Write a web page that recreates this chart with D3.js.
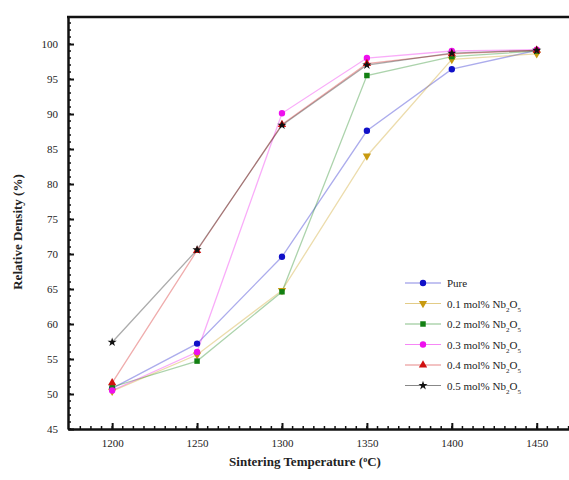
<!DOCTYPE html>
<html>
<head>
<meta charset="utf-8">
<script src="https://cdn.jsdelivr.net/npm/d3@7"></script>
<style>
	body { margin: 0; background: #fff; }
	svg text { font-family: "Liberation Serif", "Times New Roman", serif; fill: #222; }
</style>
</head>
<body>
<div id="chart"></div>
<script>
'use strict';

// Data
var temps = [1200, 1250, 1300, 1350, 1400, 1450];
var seriesNames = ['Pure', '0.1 mol% Nb2O5', '0.2 mol% Nb2O5', '0.3 mol% Nb2O5', '0.4 mol% Nb2O5', '0.5 mol% Nb2O5'];
var pure = [50.8, 57.2, 69.6, 87.6, 96.4, 99.1];
var nb01 = [50.4, 55.6, 64.8, 84.0, 97.8, 98.6];
var nb02 = [51.0, 54.7, 64.6, 95.5, 98.2, 99.0];
var nb03 = [50.5, 56.0, 90.1, 98.0, 99.0, 99.2];
var nb04 = [51.6, 70.5, 88.5, 97.2, 98.6, 99.1];
var nb05 = [57.4, 70.6, 88.4, 97.0, 98.7, 99.1];
var xTicks = [1200, 1250, 1300, 1350, 1400, 1450];
var yTicks = [45, 50, 55, 60, 65, 70, 75, 80, 85, 90, 95, 100];

var colors = ['#1010c8', '#c89a10', '#128012', '#ee10ee', '#d01010', '#111111'];
var shapes = ['circle', 'down', 'square', 'circle', 'up', 'star'];
var values = [pure, nb01, nb02, nb03, nb04, nb05];

var width = 569, height = 480;
var svg = d3.select('#chart')
	.append('svg')
	.attr('width', width)
	.attr('height', height);

// Scales
var x = d3.scaleLinear().domain([1174, 1469]).range([68, 569]);
var y = d3.scaleLinear().domain([45, 103.86]).range([429, 17]);

// Minor ticks
var xMinor = d3.range(1181.25, 1469, 6.25);
var yMinor = d3.range(45, 104, 1);

svg.selectAll('.xminor')
	.data(xMinor)
	.enter()
	.append('line')
	.attr('x1', function(d) { return x(d); })
	.attr('x2', function(d) { return x(d); })
	.attr('y1', y(45))
	.attr('y2', y(45) - 3)
	.attr('stroke', '#111')
	.attr('stroke-width', 1.5);

svg.selectAll('.yminor')
	.data(yMinor)
	.enter()
	.append('line')
	.attr('x1', x(1174))
	.attr('x2', x(1174) + 3)
	.attr('y1', function(d) { return y(d); })
	.attr('y2', function(d) { return y(d); })
	.attr('stroke', '#111')
	.attr('stroke-width', 1.5);

// Axes
var xAxis = svg.append('g')
	.attr('transform', 'translate(0,' + y(45) + ')')
	.call(d3.axisBottom(x).tickValues(xTicks).tickFormat(d3.format('d')).tickSizeInner(-6).tickSizeOuter(0).tickPadding(10));
var yAxis = svg.append('g')
	.attr('transform', 'translate(' + x(1174) + ',0)')
	.call(d3.axisLeft(y).tickValues(yTicks).tickSizeInner(-6).tickSizeOuter(0).tickPadding(10));

[xAxis, yAxis].forEach(function(a) {
	a.select('.domain').attr('stroke', '#111').attr('stroke-width', 2.5);
	a.selectAll('.tick line').attr('stroke', '#111').attr('stroke-width', 2);
	a.selectAll('.tick text').style('font-size', '11px').attr('fill', '#333');
});

// Top border
svg.append('line')
	.attr('x1', x(1174) - 1)
	.attr('x2', width)
	.attr('y1', y(103.86))
	.attr('y2', y(103.86))
	.attr('stroke', '#111')
	.attr('stroke-width', 2.5);

// Axis titles
svg.append('text')
	.attr('x', 305)
	.attr('y', 466)
	.attr('text-anchor', 'middle')
	.style('font-size', '13px')
	.style('font-weight', 'bold')
	.html('Sintering Temperature (<tspan baseline-shift="super" font-size="8px">o</tspan>C)');

svg.append('text')
	.attr('transform', 'translate(22,232) rotate(-90)')
	.attr('text-anchor', 'middle')
	.style('font-size', '13px')
	.style('font-weight', 'bold')
	.text('Relative Density (%)');

// Markers
function markerPath(shape) {
	if (shape === 'circle') return d3.symbol(d3.symbolCircle, 32)();
	if (shape === 'square') return d3.symbol(d3.symbolSquare, 30)();
	if (shape === 'star') return d3.symbol(d3.symbolStar, 26)();
	return d3.symbol(d3.symbolTriangle, 30)();
}
function markerRot(shape) {
	return shape === 'down' ? ' rotate(180)' : '';
}

var line = d3.line()
	.x(function(d, i) { return x(temps[i]); })
	.y(function(d) { return y(d); });

values.forEach(function(vals, s) {
	svg.append('path')
		.attr('d', line(vals))
		.attr('fill', 'none')
		.attr('stroke', colors[s])
		.attr('stroke-opacity', 0.35)
		.attr('stroke-width', 1.3);
});

values.forEach(function(vals, s) {
	svg.selectAll('.pt' + s)
		.data(vals)
		.enter()
		.append('path')
		.attr('d', markerPath(shapes[s]))
		.attr('transform', function(d, i) { return 'translate(' + x(temps[i]) + ',' + y(d) + ')' + markerRot(shapes[s]); })
		.attr('fill', colors[s]);
});

// Legend
var legend = svg.append('g').attr('transform', 'translate(405,283)');
seriesNames.forEach(function(name, s) {
	var g = legend.append('g').attr('transform', 'translate(0,' + (s * 20.5) + ')');
	g.append('line')
		.attr('x1', 0).attr('x2', 36)
		.attr('y1', 0).attr('y2', 0)
		.attr('stroke', colors[s])
		.attr('stroke-opacity', 0.5)
		.attr('stroke-width', 1.2);
	g.append('path')
		.attr('d', markerPath(shapes[s]))
		.attr('transform', 'translate(18,0)' + markerRot(shapes[s]))
		.attr('fill', colors[s]);
	var t = g.append('text')
		.attr('x', 42)
		.attr('y', 4)
		.style('font-size', '11px');
	if (s === 0) {
		t.text(name);
	} else {
		t.html(name.replace('Nb2O5', 'Nb<tspan baseline-shift="sub" font-size="7px">2</tspan>O<tspan baseline-shift="sub" font-size="7px">5</tspan>'));
	}
});
</script>
</body>
</html>
